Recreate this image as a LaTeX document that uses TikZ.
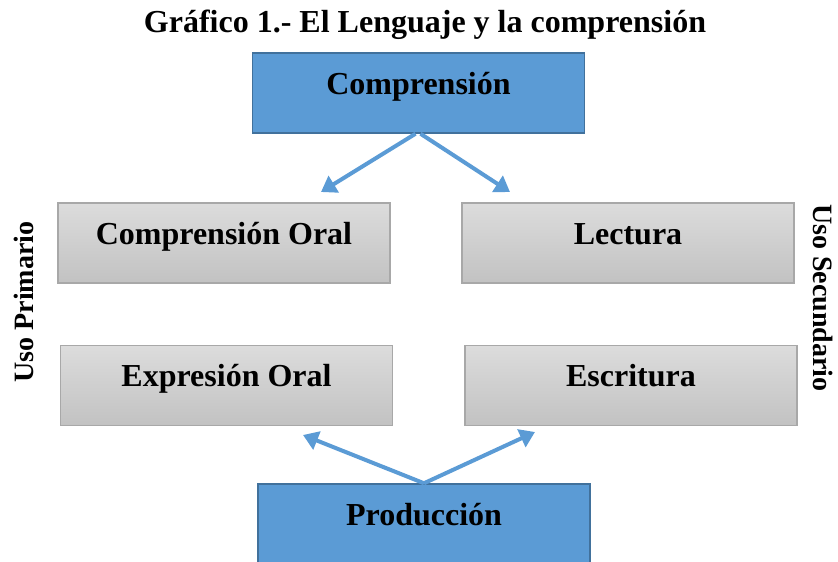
\documentclass[tikz,border=0pt]{standalone}
\usepackage{fontspec}
\setmainfont{Liberation Serif}
\usetikzlibrary{arrows.meta}

\definecolor{azul}{HTML}{5B9BD5}
\definecolor{azulborde}{HTML}{41719C}
\definecolor{grisarriba}{HTML}{DCDCDC}
\definecolor{grisabajo}{HTML}{C2C2C2}
\definecolor{grisborde}{HTML}{A8A8A8}

\begin{document}
\begin{tikzpicture}[x=1pt,y=-1pt,
    caja/.style={rectangle,minimum width=332pt,minimum height=80pt,
      inner sep=0pt,text height=22pt,text depth=20pt,
      font=\fontsize{32}{36}\selectfont\bfseries},
    cajagris/.style={caja,draw=grisborde,line width=1.2pt,
      top color=grisarriba,bottom color=grisabajo},
    cajaazul/.style={caja,draw=azulborde,line width=1.5pt,fill=azul},
    flecha/.style={draw=azul,line width=4pt,
      -{Triangle[length=15pt,width=19pt]}},
    lado/.style={font=\fontsize{28}{32}\selectfont\bfseries}]
  \useasboundingbox (0,0) rectangle (838,562);

  \node [font=\fontsize{32}{36}\selectfont\bfseries] (titulo) at (425,25)
    {Gráfico 1.- El Lenguaje y la comprensión};

  \node [cajaazul] (comp) at (418.5,93) {Comprensión};

  \node [cajagris] (comporal) at (224,243) {Comprensión Oral};
  \node [cajagris] (lectura) at (628,243) {Lectura};
  \node [cajagris] (exporal) at (226.5,385.5) {Expresión Oral};
  \node [cajagris] (escritura) at (631,385.5) {Escritura};

  \node [cajaazul] (prod) at (424,524) {Producción};

  \node [lado,rotate=90] (primario) at (24,302) {Uso Primario};
  \node [lado,rotate=-90] (secundario) at (823,298) {Uso Secundario};

  % puntas de las flechas
  \coordinate (c1) at (321,192);
  \coordinate (c2) at (510,192);
  \coordinate (p1) at (303,435);
  \coordinate (p2) at (535,432);

  \draw [flecha] ([xshift=-3pt]comp.south) -- (c1);
  \draw [flecha] ([xshift=2pt]comp.south) -- (c2);
  \draw [flecha] (prod.north) -- (p1);
  \draw [flecha] (prod.north) -- (p2);
\end{tikzpicture}
\end{document}
